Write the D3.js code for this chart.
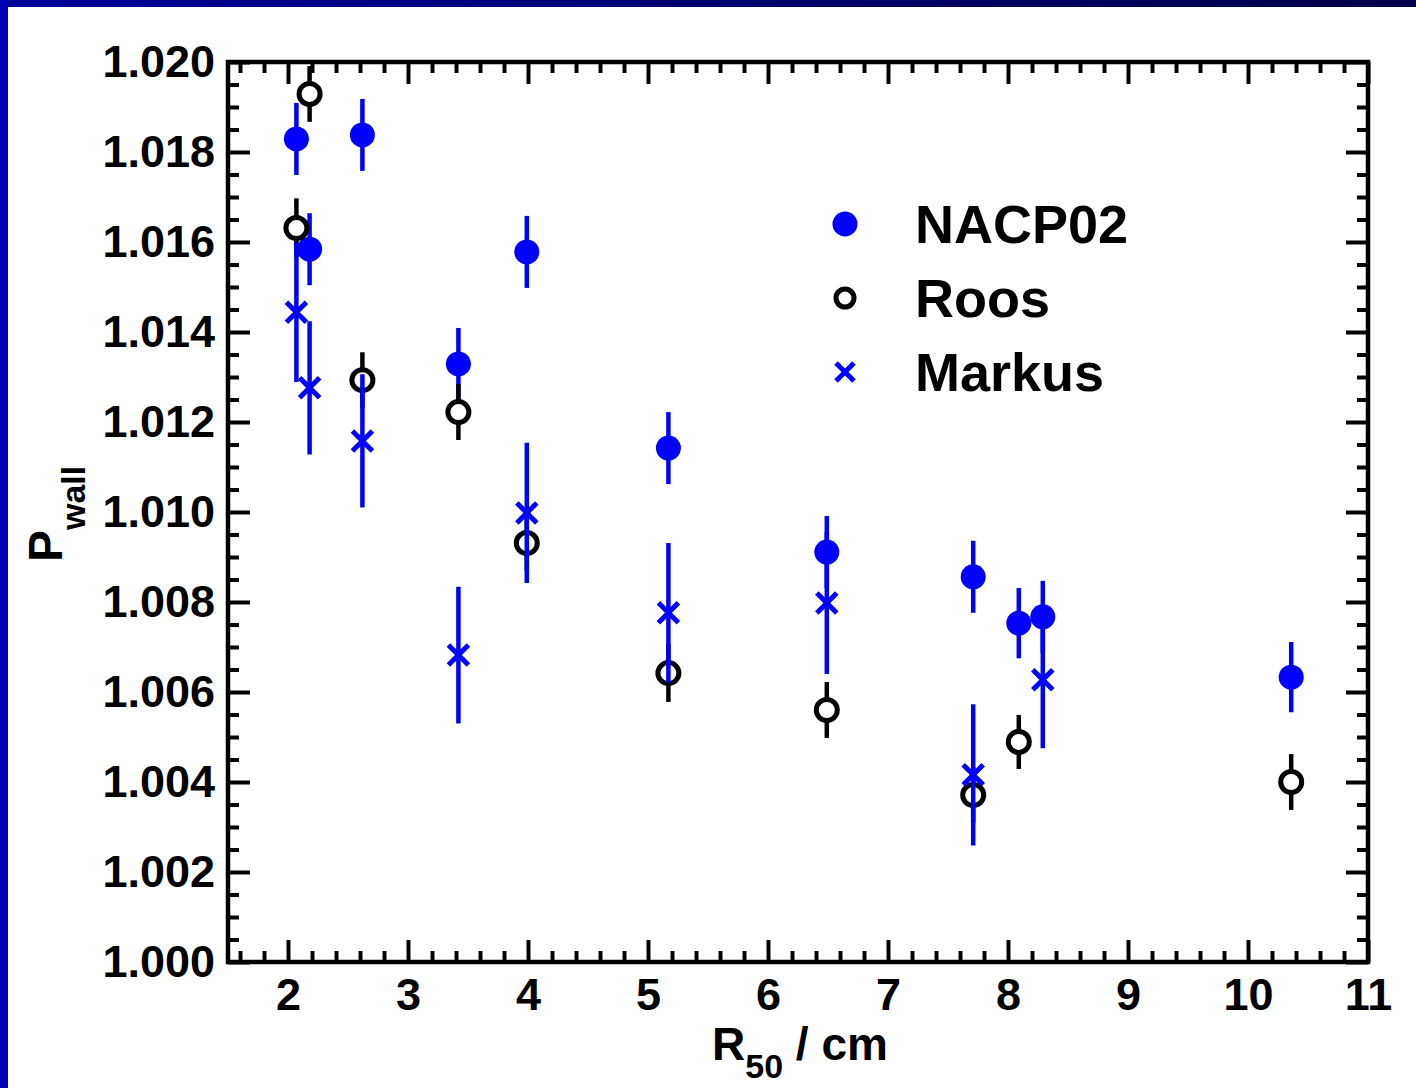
<!DOCTYPE html>
<html>
<head>
<meta charset="utf-8">
<script src="https://cdn.jsdelivr.net/npm/d3@7"></script>
<style>
  body { margin: 0; background: #fff; }
  svg { display: block; }
  text { font-family: "Liberation Sans", Arial, sans-serif; font-weight: bold; fill: #000; }
</style>
</head>
<body>
<div id="chart"></div>
<script>
const series = ["NACP02", "Roos", "Markus"];

const nacpR = [2.07, 2.18, 2.62, 3.42, 3.99, 5.17, 6.49, 7.71, 8.09, 8.29, 10.36];
const nacpP = [1.01829, 1.01584, 1.01838, 1.01329, 1.01578, 1.01142, 1.00911, 1.00856, 1.00753, 1.00767, 1.00633];
const nacpErr = [0.0008, 0.0008, 0.0008, 0.0008, 0.0008, 0.0008, 0.0008, 0.0008, 0.00078, 0.0008, 0.00078];

const roosR = [2.07, 2.18, 2.62, 3.42, 3.99, 5.17, 6.49, 7.71, 8.09, 10.36];
const roosP = [1.01631, 1.01929, 1.01293, 1.01222, 1.00931, 1.00642, 1.0056, 1.00371, 1.00489, 1.004];
const roosErr = [0.00066, 0.00062, 0.00062, 0.00062, 0.00062, 0.00064, 0.00062, 0.00062, 0.0006, 0.00062];

const markusR = [2.07, 2.18, 2.62, 3.42, 3.99, 5.17, 6.49, 7.71, 8.29];
const markusP = [1.01444, 1.01276, 1.01158, 1.00682, 1.00998, 1.00776, 1.00798, 1.00416, 1.00627];
const markusErr = [0.00155, 0.00148, 0.00148, 0.00152, 0.00156, 0.00155, 0.00158, 0.00157, 0.00152];

const xTicks = [2, 3, 4, 5, 6, 7, 8, 9, 10, 11];
const yTicks = [1.000, 1.002, 1.004, 1.006, 1.008, 1.010, 1.012, 1.014, 1.016, 1.018, 1.020];

const W = 1416, H = 1088;
const plotL = 228, plotR = 1368, plotT = 62, plotB = 962;
const blue = "#0000ff";

const svg = d3.select("#chart").append("svg").attr("width", W).attr("height", H);

// slide frame
const grad = svg.append("defs").append("linearGradient").attr("id", "topband");
grad.append("stop").attr("offset", "0%").attr("stop-color", "#00009a");
grad.append("stop").attr("offset", "100%").attr("stop-color", "#00004a");
svg.append("rect").attr("x", 0).attr("y", 0).attr("width", W).attr("height", 7).attr("fill", "url(#topband)");
svg.append("rect").attr("x", 0).attr("y", 0).attr("width", 8).attr("height", H).attr("fill", "#0000b4");

const x = d3.scaleLinear().domain([1.5, 11]).range([plotL, plotR]);
const y = d3.scaleLinear().domain([1.0, 1.02]).range([plotB, plotT]);

const xMinor = d3.range(16, 111, 2).map(d => d / 10).filter(d => d % 1 !== 0);
const yMinor = d3.range(0, 41).map(d => 1 + d * 0.0005).filter(d => Math.round(d * 10000) % 20 !== 0);

function styleAxis(g) {
  g.select(".domain").remove();
  g.selectAll(".tick line").attr("stroke", "#000").attr("stroke-width", 4);
  g.selectAll(".tick text").style("font-size", "45px").attr("fill", "#000");
}

// bottom
svg.append("g").attr("transform", `translate(0,${plotB})`)
  .call(d3.axisBottom(x).tickValues(xTicks).tickFormat(d3.format("d")).tickSize(-22).tickPadding(16))
  .call(styleAxis);
svg.append("g").attr("transform", `translate(0,${plotB})`)
  .call(d3.axisBottom(x).tickValues(xMinor).tickFormat("").tickSize(-11))
  .call(styleAxis);
// top
svg.append("g").attr("transform", `translate(0,${plotT})`)
  .call(d3.axisTop(x).tickValues(xTicks).tickFormat("").tickSize(-22))
  .call(styleAxis);
svg.append("g").attr("transform", `translate(0,${plotT})`)
  .call(d3.axisTop(x).tickValues(xMinor).tickFormat("").tickSize(-11))
  .call(styleAxis);
// left
svg.append("g").attr("transform", `translate(${plotL},0)`)
  .call(d3.axisLeft(y).tickValues(yTicks).tickFormat(d3.format(".3f")).tickSize(-22).tickPadding(13))
  .call(styleAxis);
svg.append("g").attr("transform", `translate(${plotL},0)`)
  .call(d3.axisLeft(y).tickValues(yMinor).tickFormat("").tickSize(-11))
  .call(styleAxis);
// right
svg.append("g").attr("transform", `translate(${plotR},0)`)
  .call(d3.axisRight(y).tickValues(yTicks).tickFormat("").tickSize(-22))
  .call(styleAxis);
svg.append("g").attr("transform", `translate(${plotR},0)`)
  .call(d3.axisRight(y).tickValues(yMinor).tickFormat("").tickSize(-11))
  .call(styleAxis);

svg.append("rect")
  .attr("x", plotL).attr("y", plotT).attr("width", plotR - plotL).attr("height", plotB - plotT)
  .attr("fill", "none").attr("stroke", "#000").attr("stroke-width", 4.5);

// data layers: NACP02, then Roos, then Markus on top
const nacp = nacpR.map((r, i) => ({ r: r, p: nacpP[i], e: nacpErr[i] }));
const roos = roosR.map((r, i) => ({ r: r, p: roosP[i], e: roosErr[i] }));
const markus = markusR.map((r, i) => ({ r: r, p: markusP[i], e: markusErr[i] }));

const gN = svg.append("g");
gN.selectAll("line").data(nacp).join("line")
  .attr("x1", d => x(d.r)).attr("x2", d => x(d.r))
  .attr("y1", d => y(d.p + d.e)).attr("y2", d => y(d.p - d.e))
  .attr("stroke", blue).attr("stroke-width", 4.5);
gN.selectAll("circle").data(nacp).join("circle")
  .attr("cx", d => x(d.r)).attr("cy", d => y(d.p)).attr("r", 12.5)
  .attr("fill", blue);

const ringR = 10.5;
const gR = svg.append("g");
gR.selectAll("line.up").data(roos).join("line").attr("class", "up")
  .attr("x1", d => x(d.r)).attr("x2", d => x(d.r))
  .attr("y1", d => y(d.p + d.e)).attr("y2", d => y(d.p) - ringR)
  .attr("stroke", "#000").attr("stroke-width", 4.5);
gR.selectAll("line.down").data(roos).join("line").attr("class", "down")
  .attr("x1", d => x(d.r)).attr("x2", d => x(d.r))
  .attr("y1", d => y(d.p) + ringR).attr("y2", d => y(d.p - d.e))
  .attr("stroke", "#000").attr("stroke-width", 4.5);
gR.selectAll("circle").data(roos).join("circle")
  .attr("cx", d => x(d.r)).attr("cy", d => y(d.p)).attr("r", ringR)
  .attr("fill", "none").attr("stroke", "#000").attr("stroke-width", 5);

const crossPath = s => `M${-s},${-s}L${s},${s}M${-s},${s}L${s},${-s}`;
const gM = svg.append("g");
gM.selectAll("line").data(markus).join("line")
  .attr("x1", d => x(d.r)).attr("x2", d => x(d.r))
  .attr("y1", d => y(d.p + d.e)).attr("y2", d => y(d.p - d.e))
  .attr("stroke", blue).attr("stroke-width", 4.5);
gM.selectAll("path").data(markus).join("path")
  .attr("transform", d => `translate(${x(d.r)},${y(d.p)})`)
  .attr("d", crossPath(10))
  .attr("stroke", blue).attr("stroke-width", 5).attr("fill", "none");

// legend
const legY = [224, 298, 372];
const leg = svg.append("g");
leg.append("circle").attr("cx", 845).attr("cy", legY[0]).attr("r", 12.5).attr("fill", blue);
leg.append("circle").attr("cx", 845).attr("cy", legY[1]).attr("r", 9).attr("fill", "none")
  .attr("stroke", "#000").attr("stroke-width", 5);
leg.append("path").attr("transform", `translate(845,${legY[2]})`).attr("d", crossPath(9))
  .attr("stroke", blue).attr("stroke-width", 5);
leg.selectAll("text").data(series).join("text")
  .attr("x", 915).attr("y", (d, i) => legY[i]).attr("dy", "0.36em")
  .style("font-size", "54px").text(d => d);

// axis titles
const xt = svg.append("text").attr("x", 712).attr("y", 1060).style("font-size", "46px");
xt.append("tspan").text("R");
xt.append("tspan").attr("dy", 18).style("font-size", "34px").text("50");
xt.append("tspan").attr("dy", -18).text(" / cm");

const yt = svg.append("text").attr("transform", "translate(62,562) rotate(-90)").style("font-size", "48px");
yt.append("tspan").text("P");
yt.append("tspan").attr("dy", 23).style("font-size", "34px").text("wall");
</script>
</body>
</html>
